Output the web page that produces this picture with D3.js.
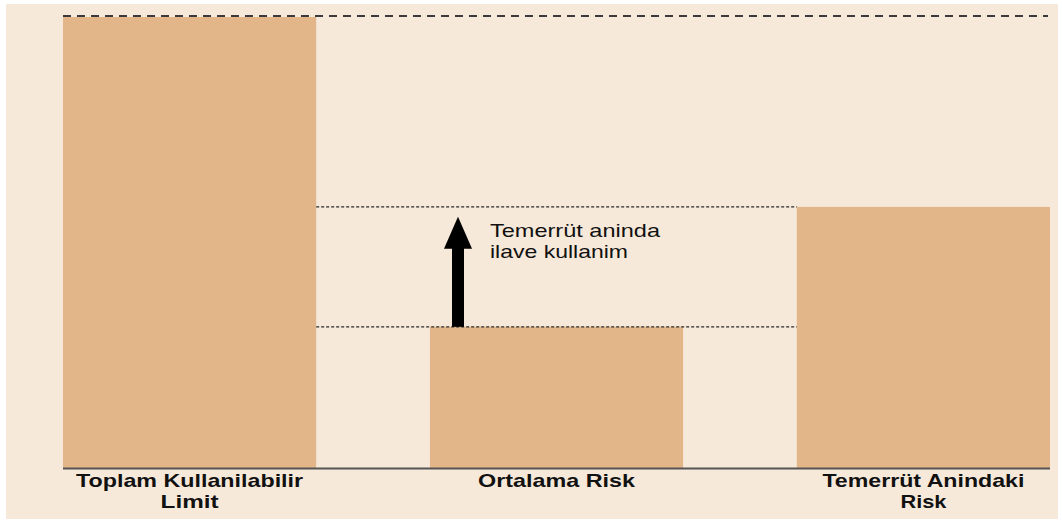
<!DOCTYPE html>
<html>
<head>
<meta charset="utf-8">
<script src="https://cdn.jsdelivr.net/npm/d3@7"></script>
<style>
  html, body { margin: 0; padding: 0; background: #ffffff; }
  svg { display: block; }
</style>
</head>
<body>
<svg id="chart" width="1062" height="521"></svg>
<script>
// Exposure components (limit = 100)
const categories = ["Toplam Kullanilabilir Limit", "Ortalama Risk", "Temerrüt Anindaki Risk"];
const labelLines = [["Toplam Kullanilabilir", "Limit"], ["Ortalama Risk"], ["Temerrüt Anindaki", "Risk"]];
const values = [100, 31.3, 57.9];
const annotationLines = ["Temerrüt aninda", "ilave kullanim"];

const svg = d3.select("#chart");
const W = 1062, H = 521;

// panel background
svg.append("rect").attr("x", 6).attr("y", 4).attr("width", 1052).attr("height", 515)
  .attr("fill", "#f6e9da");

const x = d3.scaleBand().domain(categories).range([63, 1050]).paddingInner(0.31).paddingOuter(0);
const y = d3.scaleLinear().domain([0, 100]).range([468, 17]);

// bars
svg.selectAll("rect.bar").data(categories).enter().append("rect")
  .attr("class", "bar")
  .attr("x", d => x(d))
  .attr("width", x.bandwidth())
  .attr("y", (d, i) => y(values[i]))
  .attr("height", (d, i) => y(0) - y(values[i]))
  .attr("fill", "#e2b688");

// reference lines
const c0 = categories[0], c1 = categories[1], c2 = categories[2];
svg.append("line")
  .attr("x1", x(c0)).attr("x2", x(c2) + x.bandwidth() - 2)
  .attr("y1", y(values[0]) - 1).attr("y2", y(values[0]) - 1)
  .attr("stroke", "#3a3a3a").attr("stroke-width", 2).attr("stroke-dasharray", "8 6");

[values[2], values[1]].forEach(v => {
  svg.append("line")
    .attr("x1", x(c0) + x.bandwidth()).attr("x2", x(c2))
    .attr("y1", y(v)).attr("y2", y(v))
    .attr("stroke", "#2a2a2a").attr("stroke-width", 1.3).attr("stroke-dasharray", "3 2");
});

// baseline
svg.append("line")
  .attr("x1", x(c0)).attr("x2", x(c2) + x.bandwidth())
  .attr("y1", y(0) + 0.5).attr("y2", y(0) + 0.5)
  .attr("stroke", "#555555").attr("stroke-width", 2);

// arrow from average risk up to exposure at default
const ax = 458;
const tipY = y(values[2]) + 10;
const headBase = tipY + 32;
svg.append("rect")
  .attr("x", ax - 6).attr("width", 12)
  .attr("y", headBase - 1).attr("height", y(values[1]) - headBase + 1)
  .attr("fill", "#000");
svg.append("path")
  .attr("d", `M${ax},${tipY} L${ax + 14},${headBase} L${ax - 14},${headBase} Z`)
  .attr("fill", "#000");

// annotation text
svg.append("g").selectAll("text").data(annotationLines).enter().append("text")
  .attr("x", 490)
  .attr("y", (d, i) => 237 + i * 21)
  .attr("font-family", "Liberation Sans, Arial, sans-serif")
  .attr("font-size", 19)
  .attr("fill", "#111")
  .attr("textLength", (d, i) => i === 0 ? 170 : 138)
  .attr("lengthAdjust", "spacingAndGlyphs")
  .text(d => d);

// category labels
const labelWidths = [[227, 58], [157], [202, 46]];
categories.forEach((c, i) => {
  const cx = x(c) + x.bandwidth() / 2;
  labelLines[i].forEach((line, j) => {
    svg.append("text")
      .attr("x", cx)
      .attr("y", 487 + j * 21)
      .attr("text-anchor", "middle")
      .attr("font-family", "Liberation Sans, Arial, sans-serif")
      .attr("font-weight", "bold")
      .attr("font-size", 19)
      .attr("fill", "#111")
      .attr("textLength", labelWidths[i][j])
      .attr("lengthAdjust", "spacingAndGlyphs")
      .text(line);
  });
});
</script>
</body>
</html>
